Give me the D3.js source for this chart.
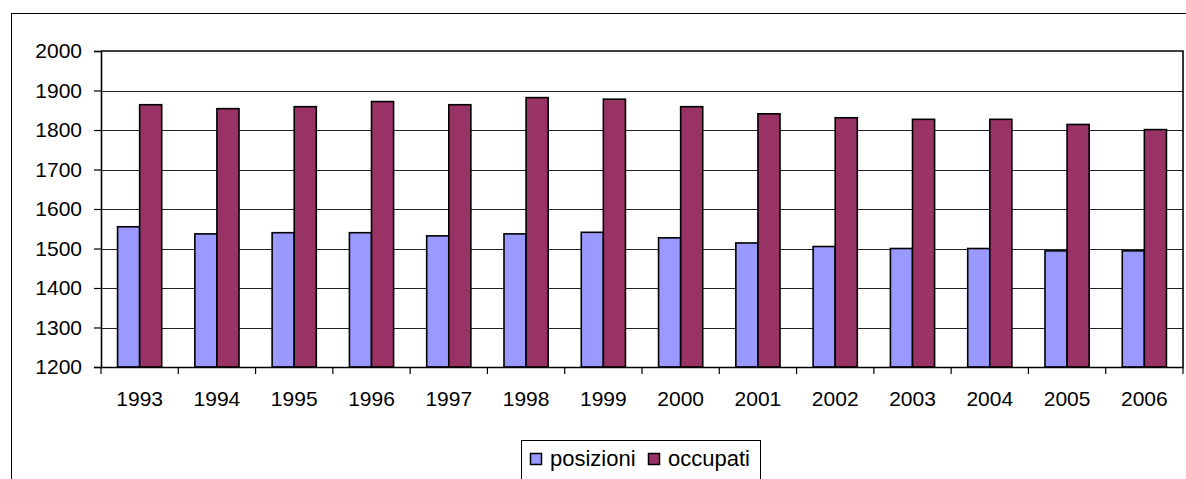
<!DOCTYPE html>
<html><head><meta charset="utf-8">
<script src="https://cdn.jsdelivr.net/npm/d3@7"></script>
<style>body{margin:0;background:#fff}svg{display:block}text{font-family:"Liberation Sans",Arial,sans-serif;fill:#000}</style>
</head><body><svg id="c" width="1186" height="479"></svg>
<script>
const years = ["1993","1994","1995","1996","1997","1998","1999","2000","2001","2002","2003","2004","2005","2006"];
const posizioni = [1555,1537,1540,1540,1532,1537,1541,1527,1514,1505,1500,1500,1494,1494];
const occupati = [1864,1854,1859,1872,1864,1882,1878,1859,1841,1831,1827,1827,1814,1801];
const seriesNames = ["posizioni","occupati"];
const seriesColors = ["#9999FF","#993366"];
const yTicks = [1200,1300,1400,1500,1600,1700,1800,1900,2000];

const svg = d3.select("#c");
const L = 101, R = 1183, T = 51, B = 367;
svg.append("rect").attr("x",11.5).attr("y",13.5).attr("width",1200).attr("height",500)
  .attr("fill","none").attr("stroke","#000").attr("stroke-width",1);

const x = d3.scaleBand().domain(years).range([L,R]).paddingInner(0);
const y = d3.scaleLinear().domain([1200,2000]).range([B,T]);
const bw = x.bandwidth()/3.5;

svg.append("g").selectAll("line").data(yTicks.slice(1,-1)).join("line")
  .attr("x1",L).attr("x2",R).attr("y1",d=>Math.round(y(d))+0.5).attr("y2",d=>Math.round(y(d))+0.5)
  .attr("stroke","#222").attr("stroke-width",1.2);

const data = years.map((yr,i)=>({yr, v:[posizioni[i],occupati[i]]}));
const groups = svg.append("g").selectAll("g").data(data).join("g");
groups.selectAll("rect").data(d=>d.v.map((v,j)=>({yr:d.yr,v,j}))).join("rect")
  .attr("x",d=>x(d.yr)+ (x.bandwidth()-2*bw)/2 + d.j*bw)
  .attr("width",bw)
  .attr("y",d=>y(d.v))
  .attr("height",d=>B-y(d.v))
  .attr("fill",d=>seriesColors[d.j])
  .attr("stroke","#000").attr("stroke-width",1.6);

svg.append("path").attr("d",`M${L},${T}H${R}V${B}`).attr("fill","none").attr("stroke","#000").attr("stroke-width",1.6);

const yAxis = d3.axisLeft(y).tickValues(yTicks).tickSize(7).tickPadding(12).tickFormat(d3.format("d"));
const ya = svg.append("g").attr("transform",`translate(${L},0)`).call(yAxis);
ya.select(".domain").attr("stroke","#000").attr("stroke-width",1.6);
ya.selectAll(".tick line").attr("stroke","#000").attr("stroke-width",1.2);
ya.selectAll("text").style("font-size","21px").attr("font-family","Liberation Sans, Arial, sans-serif");

const xAxis = d3.axisBottom(x).tickSize(0).tickPadding(24);
const xa = svg.append("g").attr("transform",`translate(0,${B})`).call(xAxis);
xa.select(".domain").attr("stroke","#000").attr("stroke-width",1.6);
xa.selectAll("text").style("font-size","21px").attr("font-family","Liberation Sans, Arial, sans-serif");
xa.append("g").selectAll("line").data(years.concat(["end"])).join("line")
  .attr("x1",(d,i)=>L+i*x.bandwidth()).attr("x2",(d,i)=>L+i*x.bandwidth())
  .attr("y1",0).attr("y2",7).attr("stroke","#000").attr("stroke-width",1.2);

const lg = svg.append("g");
lg.append("rect").attr("x",521.5).attr("y",440.5).attr("width",239).attr("height",60)
  .attr("fill","#fff").attr("stroke","#000").attr("stroke-width",1);
const legX = [530,648];
seriesNames.forEach((n,j)=>{
  lg.append("rect").attr("x",legX[j]+0.5).attr("y",453.5).attr("width",11).attr("height",11)
    .attr("fill",seriesColors[j]).attr("stroke","#000").attr("stroke-width",1.5);
  lg.append("text").attr("x",legX[j]+20).attr("y",466).style("font-size","22px").text(n);
});
</script></body></html>
